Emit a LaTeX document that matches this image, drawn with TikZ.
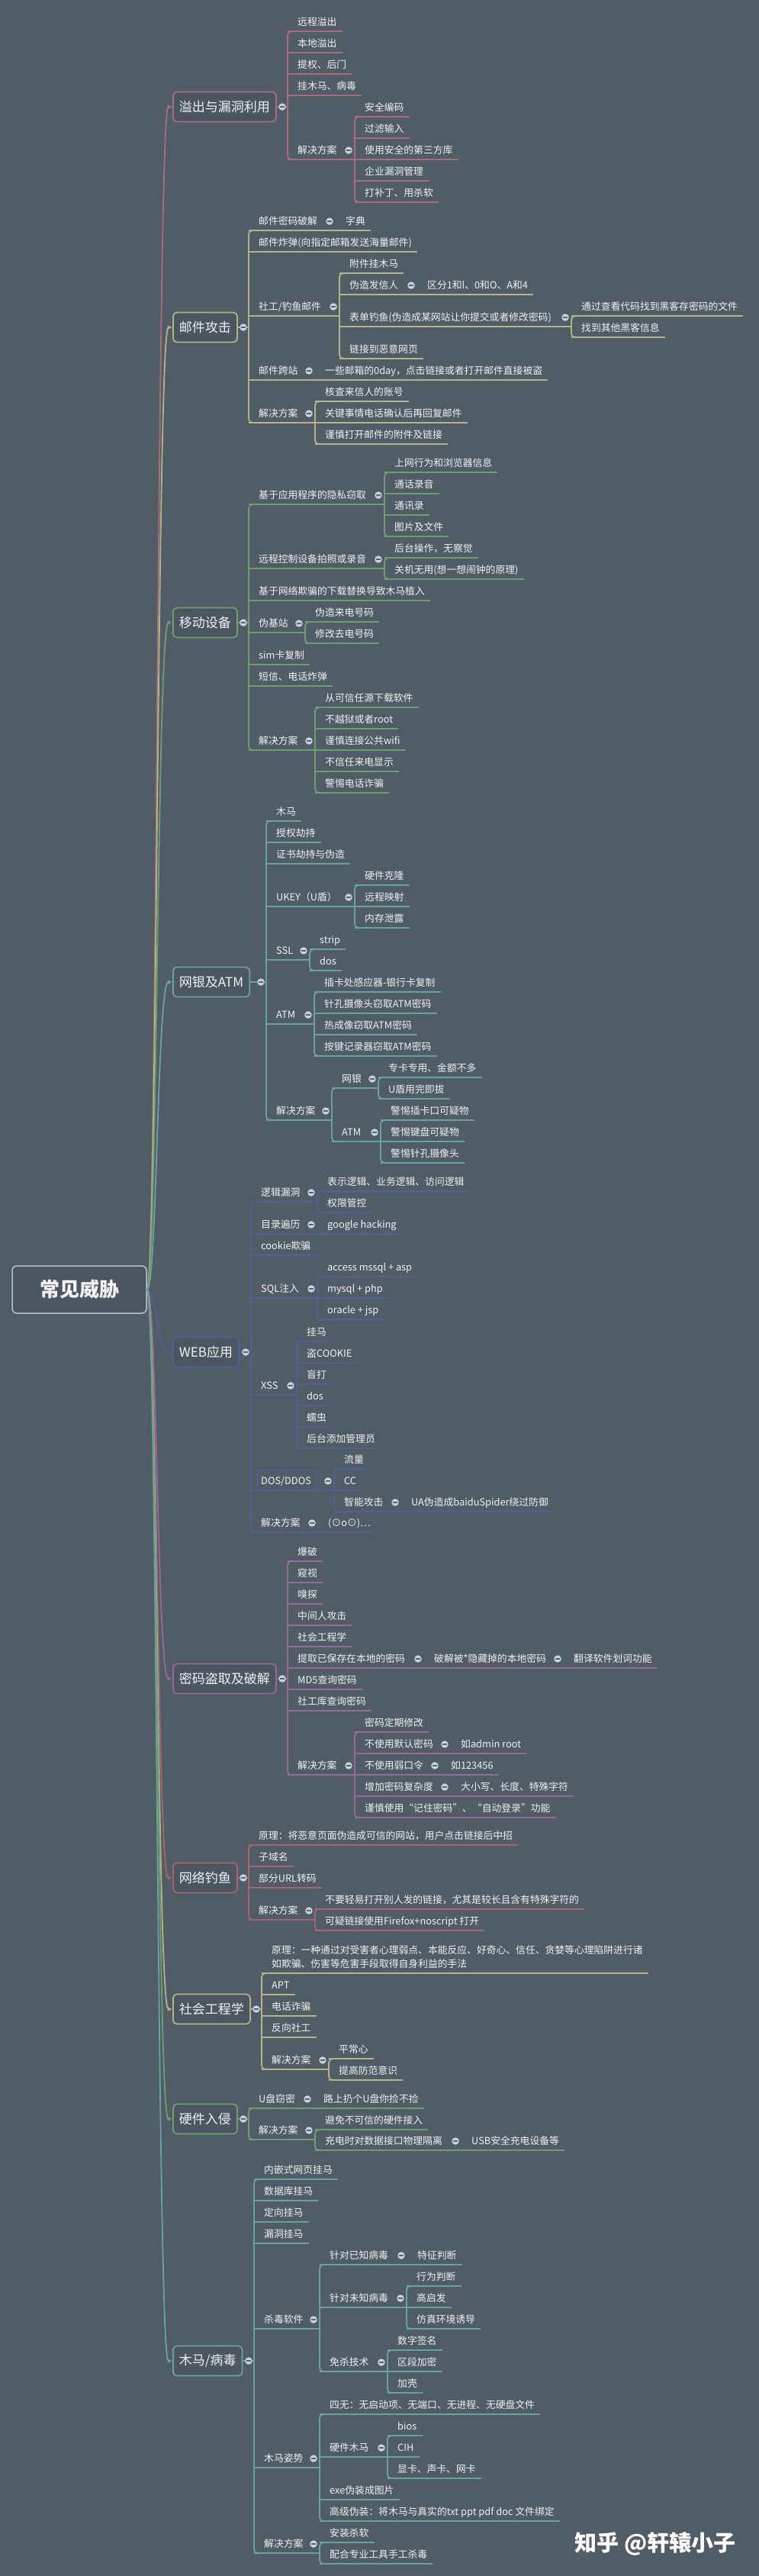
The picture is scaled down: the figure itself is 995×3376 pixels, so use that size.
\documentclass[tikz,border=0pt]{standalone}
\usepackage{fontspec}
\setmainfont{Noto Sans CJK SC}
\usetikzlibrary{arrows.meta}
\definecolor{bg}{HTML}{505C66}
\definecolor{boxc}{HTML}{4B5661}
\definecolor{txt}{HTML}{F2F2F2}
\definecolor{dotc}{HTML}{C9D2E3}
\definecolor{dotm}{HTML}{5A6470}
\definecolor{rootb}{HTML}{B8C2CC}
\definecolor{cpink}{HTML}{A86F7A}
\definecolor{colive}{HTML}{B3B385}
\definecolor{cgreen}{HTML}{6F9F6F}
\definecolor{cteal}{HTML}{67A39F}
\definecolor{cindigo}{HTML}{585D91}
\definecolor{cpurple}{HTML}{976A98}
\definecolor{cred}{HTML}{A8636F}
\colorlet{br}{cpink}
\newcommand\lfont{\fontsize{12.8}{15}\selectfont}
\newcommand\bfont{\fontsize{17}{20}\selectfont}
\tikzset{
 lf/.style={anchor=south west, inner xsep=7pt, inner ysep=0pt, text height=10pt, text depth=7pt, font=\lfont, text=txt},
 ul/.style={draw=br, line width=1.8pt},
 sp/.style={draw=br, line width=1.8pt, rounded corners=5pt},
 dot/.style={circle, fill=dotc, inner sep=0pt, minimum size=9.5pt,
   path picture={\draw[line width=1.2pt, draw=dotm] ([xshift=-2.6pt]path picture bounding box.center) -- ([xshift=2.6pt]path picture bounding box.center);}},
 box/.style={draw=br, fill=boxc, line width=1.8pt, rounded corners=5pt, minimum height=39pt, inner xsep=8pt, anchor=west, font=\bfont, text=txt},
 conn/.style={draw=br, line width=1.8pt, -{Latex[length=6pt,width=6pt]}},
}
% leaf: name, spine x, line y, text
\newcommand\LeafN[4]{%
  \node[lf] (#1) at ({#2+6},#3) {#4};
  \draw[ul] (#2,#3) -- (#1.south east);}
% parent: name, spine x, line y, text, child spine x, top y, bottom y
\newcommand\ParN[7]{%
  \node[lf] (#1) at ({#2+6},#3) {#4};
  \draw[ul] (#2,#3) -- (#5,#3);
  \draw[sp] ({#5+10},#6) -- (#5,#6) -- (#5,#7) -- ({#5+10},#7);
  \node[dot] (#1d) at ({#5-8},{#3-12}) {};}
% inline: name, spine x, line y, text, child spine x, child text
\newcommand\InlN[6]{%
  \node[lf] (#1) at ({#2+6},#3) {#4};
  \node[lf] (#1c) at ({#5+6},#3) {#6};
  \draw[ul] (#2,#3) -- (#1c.south east);
  \node[dot] (#1d) at ({#5-8},{#3-12}) {};}
% branch: name, y, text, spine x, top y, bottom y
\newcommand\BrN[6]{%
  \node[box] (#1) at (226,#2) {#3};
  \draw[ul] (#1.east) -- (#4,#2);
  \draw[sp] ({#4+10},#5) -- (#4,#5) -- (#4,#6) -- ({#4+10},#6);
  \node[dot] (#1d) at ({#4-7},#2) {};
  \draw[conn] (root.east) .. controls (206,1690) and (206,#2) .. (#1.west);}
\begin{document}
\begin{tikzpicture}[x=1pt,y=-1pt]
\fill[bg] (0,0) rectangle (995,3376);
\useasboundingbox (0,0) rectangle (995,3376);
\node[draw=rootb, line width=1.5pt, rounded corners=6pt, fill=boxc, minimum width=176pt, minimum height=62pt, font=\bfseries\fontsize{26}{30}\selectfont, text=txt] (root) at (104,1690) {常见威胁};

% 1
\begin{scope}\colorlet{br}{cpink}
\BrN{B1}{140}{溢出与漏洞利用}{377}{41}{209}
\LeafN{a1}{377}{41}{远程溢出}
\LeafN{a2}{377}{69}{本地溢出}
\LeafN{a3}{377}{97}{提权、后门}
\LeafN{a4}{377}{125}{挂木马、病毒}
\ParN{a5}{377}{209}{解决方案}{465}{153}{265}
\LeafN{a6}{465}{153}{安全编码}
\LeafN{a7}{465}{181}{过滤输入}
\LeafN{a8}{465}{209}{使用安全的第三方库}
\LeafN{a9}{465}{237}{企业漏洞管理}
\LeafN{a10}{465}{265}{打补丁、用杀软}
\end{scope}

% 2
\begin{scope}\colorlet{br}{colive}
\BrN{B2}{429}{邮件攻击}{326}{302}{554}
\InlN{b1}{326}{302}{邮件密码破解}{440}{字典}
\LeafN{b2}{326}{330}{邮件炸弹(向指定邮箱发送海量邮件)}
\ParN{b3}{326}{414}{社工/钓鱼邮件}{445}{358}{470}
\LeafN{b4}{445}{358}{附件挂木马}
\InlN{b5}{445}{386}{伪造发信人}{547}{区分1和l、0和O、A和4}
\ParN{b6}{445}{428}{表单钓鱼(伪造成某网站让你提交或者修改密码)}{749}{414}{442}
\LeafN{b7}{749}{414}{通过查看代码找到黑客存密码的文件}
\LeafN{b8}{749}{442}{找到其他黑客信息}
\LeafN{b9}{445}{470}{链接到恶意网页}
\InlN{b10}{326}{498}{邮件跨站}{413}{一些邮箱的0day，点击链接或者打开邮件直接被盗}
\ParN{b11}{326}{554}{解决方案}{413}{526}{582}
\LeafN{b12}{413}{526}{核查来信人的账号}
\LeafN{b13}{413}{554}{关键事情电话确认后再回复邮件}
\LeafN{b14}{413}{582}{谨慎打开邮件的附件及链接}
\end{scope}

% 3
\begin{scope}\colorlet{br}{cgreen}
\BrN{B3}{816}{移动设备}{326}{661}{983}
\ParN{c1}{326}{661}{基于应用程序的隐私窃取}{504}{619}{703}
\LeafN{c2}{504}{619}{上网行为和浏览器信息}
\LeafN{c3}{504}{647}{通话录音}
\LeafN{c4}{504}{675}{通讯录}
\LeafN{c5}{504}{703}{图片及文件}
\ParN{c6}{326}{745}{远程控制设备拍照或录音}{504}{731}{759}
\LeafN{c7}{504}{731}{后台操作，无察觉}
\LeafN{c8}{504}{759}{关机无用(想一想闹钟的原理)}
\LeafN{c9}{326}{787}{基于网络欺骗的下载替换导致木马植入}
\ParN{c10}{326}{829}{伪基站}{400}{815}{843}
\LeafN{c11}{400}{815}{伪造来电号码}
\LeafN{c12}{400}{843}{修改去电号码}
\LeafN{c13}{326}{871}{sim卡复制}
\LeafN{c14}{326}{899}{短信、电话炸弹}
\ParN{c15}{326}{983}{解决方案}{413}{927}{1039}
\LeafN{c16}{413}{927}{从可信任源下载软件}
\LeafN{c17}{413}{955}{不越狱或者root}
\LeafN{c18}{413}{983}{谨慎连接公共wifi}
\LeafN{c19}{413}{1011}{不信任来电显示}
\LeafN{c20}{413}{1039}{警惕电话诈骗}
\end{scope}

% 4
\begin{scope}\colorlet{br}{cteal}
\BrN{B4}{1287}{网银及ATM}{349}{1076}{1468}
\LeafN{d1}{349}{1076}{木马}
\LeafN{d2}{349}{1104}{授权劫持}
\LeafN{d3}{349}{1132}{证书劫持与伪造}
\ParN{d4}{349}{1188}{UKEY（U盾）}{465}{1160}{1216}
\LeafN{d5}{465}{1160}{硬件克隆}
\LeafN{d6}{465}{1188}{远程映射}
\LeafN{d7}{465}{1216}{内存泄露}
\ParN{d8}{349}{1258}{SSL}{406}{1244}{1272}
\LeafN{d9}{406}{1244}{strip}
\LeafN{d10}{406}{1272}{dos}
\ParN{d11}{349}{1342}{ATM}{412}{1300}{1384}
\LeafN{d12}{412}{1300}{插卡处感应器-银行卡复制}
\LeafN{d13}{412}{1328}{针孔摄像头窃取ATM密码}
\LeafN{d14}{412}{1356}{热成像窃取ATM密码}
\LeafN{d15}{412}{1384}{按键记录器窃取ATM密码}
\ParN{d16}{349}{1468}{解决方案}{435}{1426}{1496}
\ParN{d17}{435}{1426}{网银}{496}{1412}{1440}
\LeafN{d18}{496}{1412}{专卡专用、金额不多}
\LeafN{d19}{496}{1440}{U盾用完即拔}
\ParN{d20}{435}{1496}{ATM}{499}{1468}{1524}
\LeafN{d21}{499}{1468}{警惕插卡口可疑物}
\LeafN{d22}{499}{1496}{警惕键盘可疑物}
\LeafN{d23}{499}{1524}{警惕针孔摄像头}
\end{scope}

% 5
\begin{scope}\colorlet{br}{cindigo}
\BrN{B5}{1772}{WEB应用}{329}{1575}{2008}
\ParN{e1}{329}{1575}{逻辑漏洞}{416}{1561}{1589}
\LeafN{e2}{416}{1561}{表示逻辑、业务逻辑、访问逻辑}
\LeafN{e3}{416}{1589}{权限管控}
\InlN{e4}{329}{1617}{目录遍历}{416}{google hacking}
\LeafN{e5}{329}{1645}{cookie欺骗}
\ParN{e6}{329}{1701}{SQL注入}{416}{1673}{1729}
\LeafN{e7}{416}{1673}{access mssql + asp}
\LeafN{e8}{416}{1701}{mysql + php}
\LeafN{e9}{416}{1729}{oracle + jsp}
\ParN{e10}{329}{1828}{XSS}{389}{1758}{1898}
\LeafN{e11}{389}{1758}{挂马}
\LeafN{e12}{389}{1786}{盗COOKIE}
\LeafN{e13}{389}{1814}{盲打}
\LeafN{e14}{389}{1842}{dos}
\LeafN{e15}{389}{1870}{蠕虫}
\LeafN{e16}{389}{1898}{后台添加管理员}
\ParN{e17}{329}{1953}{DOS/DDOS}{438}{1925}{1981}
\draw[ul, line width=1.5pt, rounded corners=3pt] ([xshift=2pt]e17.south west) rectangle ([yshift=26pt]e17.south east);
\LeafN{e18}{438}{1925}{流量}
\LeafN{e19}{438}{1953}{CC}
\InlN{e20}{438}{1981}{智能攻击}{526}{UA伪造成baiduSpider绕过防御}
\InlN{e21}{329}{2008}{解决方案}{417}{(⊙o⊙)…}
\end{scope}

% 6
\begin{scope}\colorlet{br}{cpurple}
\BrN{B6}{2200}{密码盗取及破解}{377}{2046}{2326}
\LeafN{f1}{377}{2046}{爆破}
\LeafN{f2}{377}{2074}{窥视}
\LeafN{f3}{377}{2102}{嗅探}
\LeafN{f4}{377}{2130}{中间人攻击}
\LeafN{f5}{377}{2158}{社会工程学}
\node[lf] (f6) at (383,2186) {提取已保存在本地的密码};
\node[lf] (f6b) at (562,2186) {破解被*隐藏掉的本地密码};
\node[lf] (f6c) at (745,2186) {翻译软件划词功能};
\draw[ul] (377,2186) -- (f6c.south east);
\node[dot] (f6d) at (548,2174) {};
\node[dot] (f6bd) at (731,2174) {};
\LeafN{f7}{377}{2214}{MD5查询密码}
\LeafN{f8}{377}{2242}{社工库查询密码}
\ParN{f9}{377}{2326}{解决方案}{465}{2270}{2382}
\LeafN{f10}{465}{2270}{密码定期修改}
\InlN{f11}{465}{2298}{不使用默认密码}{591}{如admin root}
\InlN{f12}{465}{2326}{不使用弱口令}{578}{如123456}
\InlN{f13}{465}{2354}{增加密码复杂度}{591}{大小写、长度、特殊字符}
\LeafN{f14}{465}{2382}{谨慎使用“记住密码”、“自动登录”功能}
\end{scope}

% 7
\begin{scope}\colorlet{br}{cred}
\BrN{B7}{2461}{网络钓鱼}{326}{2418}{2516}
\LeafN{g1}{326}{2418}{原理：将恶意页面伪造成可信的网站，用户点击链接后中招}
\LeafN{g2}{326}{2446}{子域名}
\LeafN{g3}{326}{2474}{部分URL转码}
\ParN{g4}{326}{2516}{解决方案}{413}{2502}{2530}
\LeafN{g5}{413}{2502}{不要轻易打开别人发的链接，尤其是较长且含有特殊字符的}
\LeafN{g6}{413}{2530}{可疑链接使用Firefox+noscript 打开}
\end{scope}

% 8
\begin{scope}\colorlet{br}{colive}
\BrN{B8}{2633}{社会工程学}{343}{2586}{2712}
\node[lf] (h1) at (349,2568) {原理：一种通过对受害者心理弱点、本能反应、好奇心、信任、贪婪等心理陷阱进行诸};
\node[lf] (h1b) at (349,2586) {如欺骗、伤害等危害手段取得自身利益的手法};
\draw[ul] (343,2586) -- (h1.south east |- h1b.south);
\LeafN{h2}{343}{2614}{APT}
\LeafN{h3}{343}{2642}{电话诈骗}
\LeafN{h4}{343}{2670}{反向社工}
\ParN{h5}{343}{2712}{解决方案}{431}{2698}{2726}
\LeafN{h6}{431}{2698}{平常心}
\LeafN{h7}{431}{2726}{提高防范意识}
\end{scope}

% 9
\begin{scope}\colorlet{br}{cgreen}
\BrN{B9}{2777}{硬件入侵}{326}{2763}{2804}
\InlN{i1}{326}{2763}{U盘窃密}{411}{路上扔个U盘你捡不捡}
\ParN{i2}{326}{2804}{解决方案}{413}{2791}{2818}
\LeafN{i3}{413}{2791}{避免不可信的硬件接入}
\InlN{i4}{413}{2818}{充电时对数据接口物理隔离}{605}{USB安全充电设备等}
\end{scope}

% 10
\begin{scope}\colorlet{br}{cteal}
\BrN{B10}{3094}{木马/病毒}{333}{2856}{3346}
\LeafN{j1}{333}{2856}{内嵌式网页挂马}
\LeafN{j2}{333}{2884}{数据库挂马}
\LeafN{j3}{333}{2912}{定向挂马}
\LeafN{j4}{333}{2940}{漏洞挂马}
\ParN{j5}{333}{3052}{杀毒软件}{419}{2968}{3108}
\InlN{j6}{419}{2968}{针对已知病毒}{534}{特征判断}
\ParN{j7}{419}{3024}{针对未知病毒}{533}{2996}{3052}
\LeafN{j8}{533}{2996}{行为判断}
\LeafN{j9}{533}{3024}{高启发}
\LeafN{j10}{533}{3052}{仿真环境诱导}
\ParN{j11}{419}{3108}{免杀技术}{508}{3080}{3136}
\LeafN{j12}{508}{3080}{数字签名}
\LeafN{j13}{508}{3108}{区段加密}
\LeafN{j14}{508}{3136}{加壳}
\ParN{j15}{333}{3234}{木马姿势}{419}{3164}{3304}
\LeafN{j16}{419}{3164}{四无：无启动项、无端口、无进程、无硬盘文件}
\ParN{j17}{419}{3220}{硬件木马}{508}{3192}{3248}
\LeafN{j18}{508}{3192}{bios}
\LeafN{j19}{508}{3220}{CIH}
\LeafN{j20}{508}{3248}{显卡、声卡、网卡}
\LeafN{j21}{419}{3276}{exe伪装成图片}
\LeafN{j22}{419}{3304}{高级伪装：将木马与真实的txt ppt pdf doc 文件绑定}
\ParN{j23}{333}{3346}{解决方案}{419}{3332}{3360}
\LeafN{j24}{419}{3332}{安装杀软}
\LeafN{j25}{419}{3360}{配合专业工具手工杀毒}
\end{scope}

\node[anchor=east, text=white, font=\bfseries\fontsize{29}{32}\selectfont] (wm) at (968,3334) {知乎 @轩辕小子};
\end{tikzpicture}
\end{document}
